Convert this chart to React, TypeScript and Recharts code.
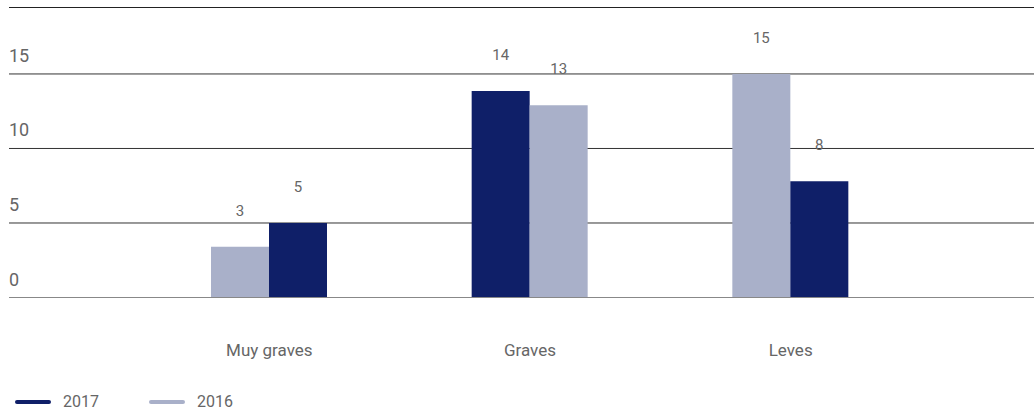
import * as React from 'react';
import { Bar, BarChart, CartesianGrid, Cell, LabelList, Legend, ReferenceLine, XAxis, YAxis } from 'recharts';

const categories = ['Muy graves', 'Graves', 'Leves'];
const values2017 = [5, 13.85, 7.8];
const values2016 = [3.4, 12.9, 15];
// which year is drawn as the left bar of each group
const leftYear = ['2016', '2017', '2016'];
const yTicks = [0, 5, 10, 15];
const yMax = 19.46;

const DARK = '#0f1f68';
const LIGHT = '#a9b0c9';
const TEXT = '#666';
const FONT = 'Roboto, "DejaVu Sans", sans-serif';

const rows = categories.map((name, i) => {
  const leftIs2017 = leftYear[i] === '2017';
  return {
    name,
    left: leftIs2017 ? values2017[i] : values2016[i],
    right: leftIs2017 ? values2016[i] : values2017[i],
    leftColor: leftIs2017 ? DARK : LIGHT,
    rightColor: leftIs2017 ? LIGHT : DARK,
  };
});

const renderYTick = (props: any) => {
  const { x, y, payload } = props;
  return (
    <text x={x} y={y - 12} textAnchor='start' fill={TEXT} fontSize={18} fontFamily={FONT}>
      {payload.value}
    </text>
  );
};

const legendItems = [
  { label: '2017', color: DARK },
  { label: '2016', color: LIGHT },
];

const LegendContent = () => (
  <div style={{ display: 'flex', alignItems: 'center', paddingLeft: 7, paddingTop: 12, fontFamily: FONT, lineHeight: '16px' }}>
    {legendItems.map((it) => (
      <div key={it.label} style={{ display: 'flex', alignItems: 'center', marginRight: 50 }}>
        <span style={{ display: 'inline-block', width: 36, height: 4, borderRadius: 2, background: it.color }} />
        <span style={{ marginLeft: 12, fontSize: 16, color: TEXT }}>{it.label}</span>
      </div>
    ))}
  </div>
);

export default function App() {
  return (
    <div>
      <style>{`body{margin:0}`}</style>
      <BarChart
        width={1034}
        height={412}
        data={rows}
        margin={{ top: 7.5, right: 0, bottom: 0, left: 8 }}
        barGap={0}
        barSize={58}
      >
        <CartesianGrid vertical={false} stroke='#333' />
        <ReferenceLine y={yMax} stroke='#222' />
        <XAxis
          dataKey='name'
          height={84.5}
          padding={{ left: 130, right: 113 }}
          tickLine={false}
          tickSize={0}
          tickMargin={46}
          axisLine={{ stroke: '#888' }}
          tick={{ fill: TEXT, fontSize: 17, fontFamily: FONT }}
          interval={0}
        />
        <YAxis
          domain={[0, yMax]}
          ticks={yTicks}
          width={1}
          tickSize={0}
          tickMargin={0}
          axisLine={false}
          tickLine={false}
          interval={0}
          tick={renderYTick}
        />
        <Legend verticalAlign='bottom' height={30} content={<LegendContent />} />
        <Bar dataKey='left' isAnimationActive={false}>
          {rows.map((r) => (
            <Cell key={r.name} fill={r.leftColor} />
          ))}
          <LabelList
            dataKey='left'
            position='top'
            offset={31}
            formatter={(v: any) => Math.round(v)}
            style={{ fill: TEXT, fontSize: 15, fontFamily: FONT }}
          />
        </Bar>
        <Bar dataKey='right' isAnimationActive={false}>
          {rows.map((r) => (
            <Cell key={r.name} fill={r.rightColor} />
          ))}
          <LabelList
            dataKey='right'
            position='top'
            offset={31}
            formatter={(v: any) => Math.round(v)}
            style={{ fill: TEXT, fontSize: 15, fontFamily: FONT }}
          />
        </Bar>
      </BarChart>
    </div>
  );
}
